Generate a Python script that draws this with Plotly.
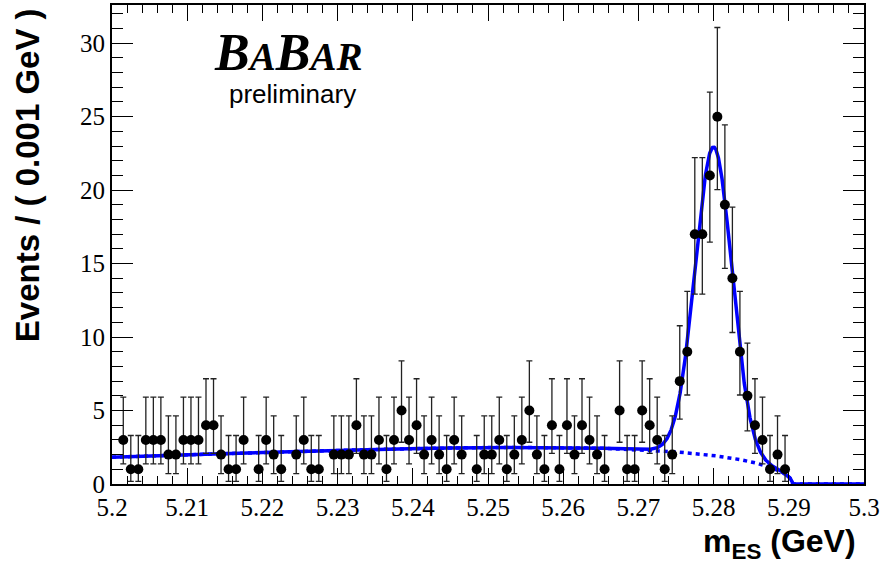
import numpy as np
import plotly.graph_objects as go

# ---------------- data ----------------
bin_lo = 5.2
bin_width = 0.001
counts = [0, 3, 1, 1, 3, 3, 3, 2, 2, 3,
          3, 3, 4, 4, 2, 1, 1, 3, 0, 1,
          3, 2, 1, 0, 2, 3, 1, 1, 0, 2,
          2, 2, 4, 2, 2, 3, 1, 3, 5, 3,
          4, 2, 3, 2, 1, 3, 2, 0, 1, 2,
          2, 3, 1, 2, 3, 5, 2, 1, 4, 1,
          4, 2, 4, 3, 2, 1, 0, 5, 1, 1,
          5, 4, 3, 1, 2, 7, 9, 17, 17, 21,
          25, 19, 14, 9, 6, 4, 3, 1, 2, 1,
          0, 0, 0, 0, 0, 0, 0, 0, 0, 0]

# Poisson 68% intervals (lower, upper) for the observed counts
poisson_lo = {1: 0.173, 2: 0.708, 3: 1.367, 4: 2.086, 5: 2.840, 6: 3.620, 7: 4.419,
              9: 6.057, 14: 10.31, 17: 12.92, 19: 14.68, 21: 16.46, 25: 20.04}
poisson_hi = {1: 3.300, 2: 4.638, 3: 5.918, 4: 7.163, 5: 8.382, 6: 9.584, 7: 10.77,
              9: 13.11, 14: 18.84, 17: 22.21, 19: 24.44, 21: 26.67, 25: 31.07}

# fit model parameters (ARGUS background + Gaussian signal)
argus_m0 = 5.2905
argus_c = -37.2
argus_norm = 6.745
sig_mean = 5.2800
sig_sigma = 0.00245
sig_amp = 21.0

x_tickvals = [5.2, 5.21, 5.22, 5.23, 5.24, 5.25, 5.26, 5.27, 5.28, 5.29, 5.3]
x_ticktext = ["5.2", "5.21", "5.22", "5.23", "5.24", "5.25", "5.26", "5.27", "5.28", "5.29", "5.3"]
y_tickvals = [0, 5, 10, 15, 20, 25, 30]
y_ticktext = ["0", "5", "10", "15", "20", "25", "30"]

# ---------------- derived ----------------
centers = [bin_lo + (i + 0.5) * bin_width for i in range(len(counts))]
px_x = [c for c, n in zip(centers, counts) if n > 0]
px_y = [n for n in counts if n > 0]
err_up = [poisson_hi[n] - n for n in px_y]
err_dn = [n - poisson_lo[n] for n in px_y]

xm = np.linspace(5.2, 5.3, 3001)
u = 1.0 - (xm / argus_m0) ** 2
bkg = np.where(u > 0, argus_norm * xm * np.sqrt(np.clip(u, 0, None)) * np.exp(argus_c * u), 0.0)
sig = sig_amp * np.exp(-0.5 * ((xm - sig_mean) / sig_sigma) ** 2)
tot = bkg + sig

SERIF = "Liberation Serif"
SANS = "Liberation Sans"

fig = go.Figure()
fig.add_trace(go.Scatter(x=xm, y=bkg, mode="lines",
                         line=dict(color="#0000ff", width=3.5, dash="4px,4px"),
                         hoverinfo="skip", showlegend=False))
fig.add_trace(go.Scatter(x=xm, y=tot, mode="lines",
                         line=dict(color="#0000ff", width=3.5),
                         hoverinfo="skip", showlegend=False))
fig.add_trace(go.Scatter(x=px_x, y=px_y, mode="markers",
                         marker=dict(color="black", size=10),
                         error_y=dict(type="data", symmetric=False, array=err_up,
                                      arrayminus=err_dn, color="#222222",
                                      thickness=1.3, width=3),
                         showlegend=False))

fig.update_layout(
    width=885, height=569,
    margin=dict(l=112, r=21, t=3, b=85),
    paper_bgcolor="white", plot_bgcolor="white",
    font=dict(family=SERIF, size=25, color="black"),
    xaxis=dict(range=[5.2, 5.3], tickvals=x_tickvals, ticktext=x_ticktext,
               ticks="inside", ticklen=16, tickwidth=1, tickcolor="black",
               minor=dict(dtick=0.002, tick0=5.2, ticks="inside", ticklen=8,
                          tickwidth=1, tickcolor="black"),
               showline=True, linecolor="black", linewidth=2, mirror="ticks",
               showgrid=False, zeroline=False),
    yaxis=dict(range=[0, 32.6], tickvals=y_tickvals, ticktext=y_ticktext,
               ticks="inside", ticklen=21, tickwidth=1, tickcolor="black",
               minor=dict(dtick=1, tick0=0, ticks="inside", ticklen=11,
                          tickwidth=1, tickcolor="black"),
               showline=True, linecolor="black", linewidth=2, mirror="ticks",
               showgrid=False, zeroline=False),
    annotations=[
        dict(text="<b>Events / ( 0.001 GeV )</b>", textangle=-90,
             xref="paper", yref="paper", x=-0.112, y=0.997,
             xanchor="center", yanchor="top", showarrow=False,
             font=dict(family=SANS, size=33, color="black")),
        dict(text="<b>m<sub>ES</sub> (GeV)</b>",
             xref="paper", yref="paper", x=0.992, y=-0.125,
             xanchor="right", yanchor="middle", showarrow=False,
             font=dict(family=SANS, size=32, color="black")),
        dict(text="<b><i><span style='font-size:52px'>B</span><span style='font-size:39px'>A</span>"
                  "<span style='font-size:52px'>B</span><span style='font-size:39px'>AR</span></i></b>",
             xref="paper", yref="paper", x=(288 - 112) / 752, y=(484 - 51) / 481,
             xanchor="center", yanchor="middle", showarrow=False,
             font=dict(family=SERIF, size=52, color="black")),
        dict(text="preliminary",
             xref="paper", yref="paper", x=(292 - 112) / 752, y=(484 - 92) / 481,
             xanchor="center", yanchor="middle", showarrow=False,
             font=dict(family=SANS, size=26, color="black")),
    ],
)
fig.update_xaxes(tickfont=dict(family=SERIF, size=25, color="black"))
fig.update_yaxes(tickfont=dict(family=SERIF, size=25, color="black"))

fig.write_html("out.html", config={"displayModeBar": False},
               post_script="document.body.style.margin='0px';document.body.style.overflow='hidden';")
